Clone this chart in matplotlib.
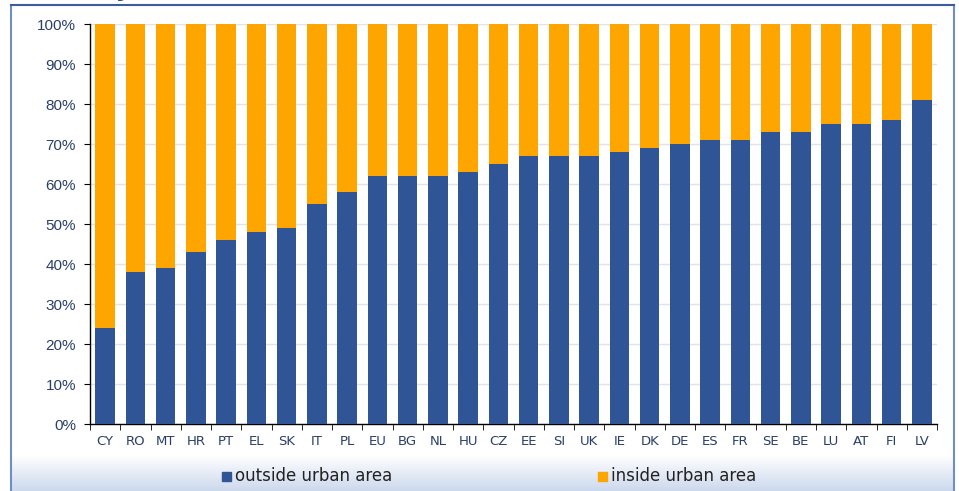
import numpy as np
import matplotlib.pyplot as plt
from matplotlib.patches import Rectangle

countries = ["CY", "RO", "MT", "HR", "PT", "EL", "SK", "IT", "PL", "EU", "BG", "NL", "HU", "CZ",
             "EE", "SI", "UK", "IE", "DK", "DE", "ES", "FR", "SE", "BE", "LU", "AT", "FI", "LV"]
outside = [24, 38, 39, 43, 46, 48, 49, 55, 58, 62, 62, 62, 63, 65,
           67, 67, 67, 68, 69, 70, 71, 71, 73, 73, 75, 75, 76, 81]
inside = [100 - v for v in outside]
yticks = [0, 10, 20, 30, 40, 50, 60, 70, 80, 90, 100]

blue = "#2f5597"
orange = "#ffa500"
txt = "#2b3f6b"

W, H = 959, 491
fig = plt.figure(figsize=(W / 100, H / 100), dpi=100)

# gradient strip at the bottom
gax = fig.add_axes([10 / W, 0, 945 / W, 36 / H])
grad = np.linspace(0, 1, 100).reshape(-1, 1)
c_top = np.array([1.0, 1.0, 1.0])
c_bot = np.array([0.80, 0.85, 0.93])
img = c_top + (c_bot - c_top) * grad[..., None]
gax.imshow(img, aspect="auto", extent=[0, 1, 0, 1])
gax.axis("off")

ax = fig.add_axes([90 / W, 1 - 424 / H, 847 / W, 400 / H])
x = np.arange(len(countries))
ax.bar(x, outside, width=0.65, color=blue, zorder=3, label="outside urban area")
ax.bar(x, inside, width=0.65, bottom=outside, color=orange, zorder=3, label="inside urban area")

ax.set_xlim(-0.5, len(countries) - 0.5)
ax.set_ylim(0, 100)
ax.set_yticks(yticks)
ax.set_yticklabels([f"{v}%" for v in yticks], fontsize=11, color=txt, family="Liberation Sans")
ax.set_xticks(x)
ax.set_xticklabels(countries, fontsize=9.5, color=txt)
ax.set_xticks(np.arange(-0.5, len(countries)), minor=True)
ax.tick_params(axis="x", which="major", length=0, pad=8)
ax.tick_params(axis="x", which="minor", length=4, direction="out")
ax.tick_params(axis="y", length=4, direction="out", pad=6)
ax.grid(axis="y", color="#e3e3e3", linewidth=1, zorder=0)
for s in ["top", "right"]:
    ax.spines[s].set_visible(False)
ax.spines["left"].set_linewidth(1)
ax.spines["bottom"].set_linewidth(1)

# legend drawn by hand
fig.patches.append(Rectangle((222 / W, 1 - 481 / H), 9 / W, 9 / H, transform=fig.transFigure,
                             color=blue))
fig.text(235 / W, 1 - 476 / H, "outside urban area", fontsize=12, color="#222222", va="center")
fig.patches.append(Rectangle((598 / W, 1 - 481 / H), 9 / W, 9 / H, transform=fig.transFigure,
                             color=orange))
fig.text(611 / W, 1 - 476 / H, "inside urban area", fontsize=12, color="#222222", va="center")

# frame
fig.add_artist(plt.Line2D([11 / W, 11 / W], [0, 1 - 5 / H], color="#6f8fc4", linewidth=1.5))
fig.add_artist(plt.Line2D([954 / W, 954 / W], [0, 1 - 5 / H], color="#6f8fc4", linewidth=1.5))
fig.add_artist(plt.Line2D([11 / W, 954 / W], [1 - 5 / H, 1 - 5 / H], color="#3d5c9c", linewidth=1.5))

# remains of the cut-off title
fig.text(118 / W, 1 + 3 / H, "y", fontsize=16, color="#2f4f8f", fontweight="bold",
         style="italic", va="baseline")

fig.savefig("out.png", dpi=100)
